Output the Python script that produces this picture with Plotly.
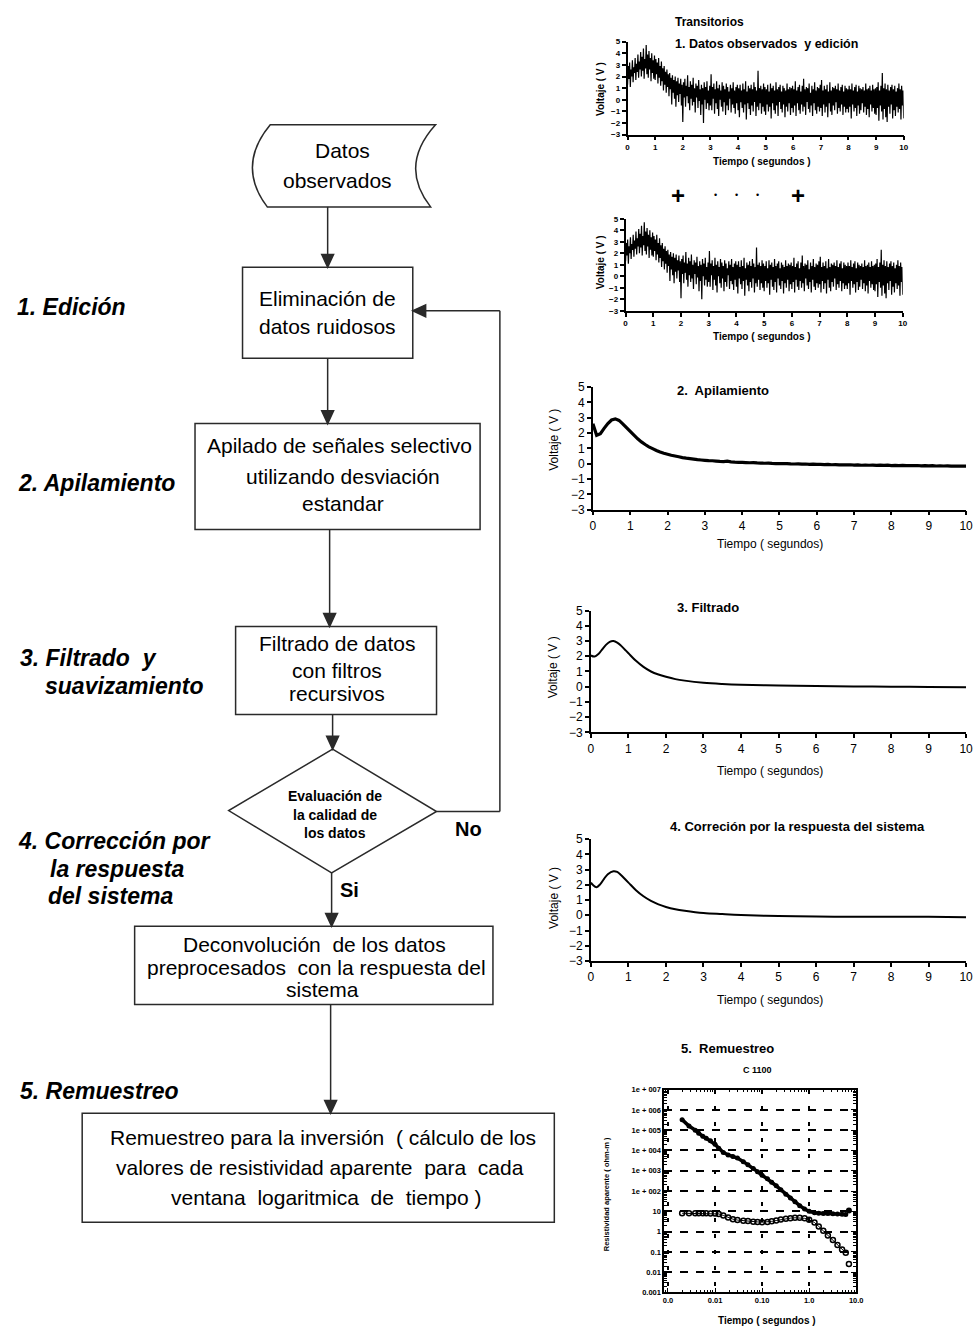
import plotly.graph_objects as go

W, H = 980, 1342

# ---------------- data ----------------
time_ticks = [0, 1, 2, 3, 4, 5, 6, 7, 8, 9, 10]
volt_ticks = [-3, -2, -1, 0, 1, 2, 3, 4, 5]

raw_dt = 0.025
raw_voltage = [
    1.3, 2.9, 1.8, 3.2, 1.1, 2.6, 2.0, 3.4, 1.5, 2.8, 2.3, 3.6, 1.7, 3.1, 2.4, 3.9, 1.9, 3.3, 2.6, 4.1,
    2.0, 3.7, 2.5, 4.4, 1.8, 3.5, 2.7, 4.7, 2.2, 3.9, 1.9, 4.2, 2.6, 3.6, 1.6, 4.0, 2.3, 3.4, 1.8, 3.8,
    1.7, 3.5, 2.2, 3.2, 1.4, 3.6, 1.9, 2.9, 1.2, 3.3, 1.6, 2.7, 0.8, 2.9, 1.3, 2.4, 0.6, 2.6, 1.1, 2.2,
    0.3, 2.3, 0.9, 1.9, -0.4, 2.1, 0.6, 1.7, 0.1, 2.0, -0.6, 1.6, 0.4, 1.9, -0.2, 1.4, 0.5, 1.8, -0.5, 1.3,
    -1.9, 1.5, 0.2, 1.8, -0.6, 1.2, 0.3, 2.1, -0.3, 1.1, -0.9, 1.6, 0.1, 1.3, -0.5, 1.9, -0.2, 1.0, -1.1, 1.4,
    0.2, 1.2, -0.7, 1.7, -0.1, 0.9, -1.3, 1.3, -0.4, 1.0, -2.0, 1.5, 0.0, 1.1, -0.8, 1.6, -0.3, 0.8, -0.9, 1.2,
    -0.5, 2.2, -0.9, 1.1, 0.1, 1.4, -1.2, 0.9, -0.3, 1.6, -0.8, 1.0, -1.4, 1.3, 0.0, 0.8, -0.6, 1.5, -1.0, 1.2,
    -0.2, 0.9, -1.3, 1.4, -0.5, 1.1, -0.9, 0.7, 0.1, 1.3, -1.1, 1.0, -0.4, 1.5, -0.7, 0.8, -1.2, 1.1, -0.3, 1.3,
    -0.9, 1.0, -1.5, 1.3, -0.2, 0.8, -0.7, 1.4, -1.1, 0.9, -0.4, 1.6, -1.7, 0.7, -0.3, 1.2, -0.8, 1.0, -1.3, 1.3,
    -0.5, 0.9, -1.0, 1.5, -0.2, 1.1, -1.4, 0.8, -0.6, 2.5, -0.9, 1.0, -0.3, 1.2, -1.2, 0.9, -0.6, 1.4, -1.0, 1.1,
    -1.3, 0.9, -0.4, 1.3, -1.0, 0.7, -0.6, 1.4, -1.6, 1.0, -0.3, 1.2, -0.9, 0.8, -1.2, 1.5, -0.5, 0.9, -1.4, 1.1,
    -0.2, 1.3, -0.8, 0.7, -1.1, 1.2, -0.4, 1.0, -1.5, 0.8, -0.6, 1.4, -1.0, 0.9, -0.3, 1.1, -1.3, 1.0, -0.7, 1.2,
    -1.1, 0.9, -0.5, 1.6, -1.4, 0.8, -0.3, 1.1, -0.9, 1.3, -1.2, 0.7, -0.4, 1.2, -1.0, 1.8, -0.6, 0.9, -1.3, 1.1,
    -0.2, 1.0, -0.8, 1.4, -1.1, 0.6, -0.5, 1.2, -1.4, 0.9, -0.3, 1.5, -0.9, 0.8, -1.2, 1.1, -0.6, 1.0, -1.0, 1.3,
    -0.7, 1.7, -1.4, 0.8, -0.4, 1.2, -1.1, 0.9, -0.6, 1.3, -1.5, 0.7, -0.3, 1.5, -1.0, 0.8, -1.3, 1.1, -0.5, 1.0,
    -0.9, 1.2, -0.2, 0.9, -1.2, 1.4, -0.7, 0.8, -1.0, 1.1, -0.4, 1.3, -1.3, 0.7, -0.6, 1.2, -1.1, 1.0, -0.8, 0.9,
    -1.1, 1.2, -0.6, 0.9, -1.6, 1.4, -0.4, 0.8, -1.0, 1.1, -0.7, 1.3, -1.4, 0.7, -0.5, 1.2, -1.2, 1.0, -0.9, 0.9,
    -0.3, 1.1, -1.1, 0.8, -0.6, 1.4, -1.3, 0.9, -0.8, 1.0, -1.5, 1.2, -0.4, 0.8, -1.0, 1.3, -0.7, 0.9, -1.2, 1.0,
    -1.3, 1.1, -0.7, 1.5, -1.8, 0.8, -0.5, 1.2, -1.0, 2.3, -1.7, 1.0, -0.8, 1.4, -1.5, 0.9, -1.9, 1.3, -0.6, 0.8,
    -1.2, 1.1, -0.4, 1.3, -1.6, 0.9, -0.9, 1.2, -1.4, 0.7, -0.6, 1.0, -1.1, 1.4, -0.8, 0.9, -1.7, 1.2, -0.5, 0.8, -1.6,
]

stack_dt = 0.1
stack_voltage = [
    2.6, 1.85, 1.95, 2.3, 2.62, 2.85, 2.92, 2.82, 2.6, 2.35,
    2.1, 1.86, 1.62, 1.42, 1.25, 1.1, 0.98, 0.86, 0.76, 0.68,
    0.62, 0.55, 0.5, 0.45, 0.4, 0.36, 0.33, 0.3, 0.26, 0.24,
    0.22, 0.2, 0.19, 0.17, 0.15, 0.14, 0.16, 0.12, 0.1, 0.09,
    0.08, 0.07, 0.06, 0.07, 0.05, 0.04, 0.03, 0.04, 0.02, 0.01,
    0.01, 0.0, 0.01, -0.01, -0.02, -0.01, -0.03, -0.02, -0.04, -0.03,
    -0.05, -0.04, -0.06, -0.05, -0.07, -0.06, -0.08, -0.07, -0.08, -0.07,
    -0.09, -0.08, -0.1, -0.09, -0.1, -0.09, -0.11, -0.1, -0.11, -0.1,
    -0.12, -0.11, -0.12, -0.11, -0.13, -0.12, -0.13, -0.12, -0.14, -0.13,
    -0.14, -0.13, -0.15, -0.14, -0.15, -0.14, -0.16, -0.15, -0.16, -0.15, -0.16,
]

filt_time = [0, 0.1, 0.2, 0.3, 0.4, 0.5, 0.6, 0.7, 0.8, 0.9, 1.0, 1.2, 1.4, 1.6, 1.8, 2.0, 2.25, 2.5,
             3.0, 3.5, 4.0, 5.0, 6.0, 7.0, 8.0, 9.0, 10.0]
filt_voltage = [2.05, 1.98, 2.15, 2.45, 2.75, 2.95, 3.0, 2.9, 2.7, 2.45, 2.2, 1.7, 1.3, 1.0, 0.8, 0.65,
                0.5, 0.4, 0.26, 0.18, 0.13, 0.08, 0.04, 0.02, 0.0, -0.02, -0.03]

corr_time = [0, 0.05, 0.15, 0.25, 0.35, 0.45, 0.6, 0.7, 0.8, 0.9, 1.0, 1.2, 1.4, 1.6, 1.8, 2.0, 2.25,
             2.5, 3.0, 3.5, 4.0, 5.0, 6.0, 7.0, 8.0, 9.0, 10.0]
corr_voltage = [2.15, 2.0, 1.85, 2.05, 2.4, 2.7, 2.9, 2.85, 2.65, 2.4, 2.15, 1.65, 1.25, 0.95, 0.72,
                0.55, 0.4, 0.3, 0.15, 0.08, 0.02, -0.05, -0.08, -0.1, -0.1, -0.1, -0.12]

res_time = [0.002, 0.0028, 0.0038, 0.0045, 0.0055, 0.0065, 0.008, 0.01, 0.012, 0.015, 0.019, 0.024,
            0.03, 0.04, 0.05, 0.065, 0.08, 0.1, 0.13, 0.16, 0.2, 0.25, 0.32, 0.4, 0.5, 0.63, 0.8,
            1.0, 1.3, 1.6, 2.0, 2.5, 3.2, 4.0, 5.0, 6.0]
res_upper = [3.3e5, 1.6e5, 1.0e5, 7e4, 5e4, 4e4, 3e4, 2e4, 1.3e4, 8e3, 6e3, 5e3,
             4.2e3, 2.8e3, 2.0e3, 1.3e3, 900, 600, 400, 270, 180, 115, 70, 45, 30, 19, 13,
             10, 8.5, 8, 7.8, 7.8, 7.6, 7.4, 7.2, 7.0]
res_lower = [8, 8, 8, 8, 8, 8, 7.8, 7.8, 7.4, 6.3, 5.0, 4.1,
             3.7, 3.4, 3.3, 3.1, 3.0, 2.9, 3.0, 3.2, 3.5, 3.9, 4.3, 4.6, 4.8, 4.8, 4.5,
             3.8, 2.8, 1.8, 1.1, 0.65, 0.38, 0.22, 0.13, 0.09]
res_out_time = [7.0]
res_out_upper = [11]
res_out_lower = [0.025]

log_y_vals = [1e-3, 1e-2, 1e-1, 1, 10, 1e2, 1e3, 1e4, 1e5, 1e6, 1e7]
log_y_text = ["0.001", "0.01", "0.1", "1", "10", "1e + 002", "1e + 003", "1e + 004",
              "1e + 005", "1e + 006", "1e + 007"]
log_x_vals = [0.001, 0.01, 0.1, 1, 10]
log_x_text = ["0.0", "0.01", "0.10", "1.0", "10.0"]

# ---------------- helpers ----------------
FONT = "Liberation Sans, Arial, sans-serif"


def px(x):
    return x / W


def py(y):
    return 1 - y / H


fig = go.Figure()

# ---------------- traces ----------------
fig.add_trace(go.Scatter(x0=0, dx=raw_dt, y=raw_voltage, mode="lines",
                         line=dict(color="black", width=1.2, simplify=False), xaxis="x", yaxis="y"))
fig.add_trace(go.Scatter(x0=0, dx=raw_dt, y=raw_voltage, mode="lines",
                         line=dict(color="black", width=1.2, simplify=False), xaxis="x2", yaxis="y2"))
fig.add_trace(go.Scatter(x0=0, dx=stack_dt, y=stack_voltage, mode="lines",
                         line=dict(color="black", width=3.2, simplify=False), xaxis="x3", yaxis="y3"))
fig.add_trace(go.Scatter(x=filt_time, y=filt_voltage, mode="lines", line_shape="spline",
                         line=dict(color="black", width=2), xaxis="x4", yaxis="y4"))
fig.add_trace(go.Scatter(x=corr_time, y=corr_voltage, mode="lines", line_shape="spline",
                         line=dict(color="black", width=2), xaxis="x5", yaxis="y5"))
fig.add_trace(go.Scatter(x=res_time, y=res_upper, mode="lines+markers",
                         line=dict(color="black", width=3.5),
                         marker=dict(color="black", size=5, symbol="circle"),
                         xaxis="x6", yaxis="y6"))
fig.add_trace(go.Scatter(x=res_time, y=res_lower, mode="lines+markers",
                         line=dict(color="black", width=1),
                         marker=dict(color="black", size=5, symbol="circle-open", line=dict(width=1.5)),
                         xaxis="x6", yaxis="y6"))
fig.add_trace(go.Scatter(x=res_out_time, y=res_out_upper, mode="markers",
                         marker=dict(color="black", size=6, symbol="circle"),
                         xaxis="x6", yaxis="y6"))
fig.add_trace(go.Scatter(x=res_out_time, y=res_out_lower, mode="markers",
                         marker=dict(color="black", size=5, symbol="circle-open", line=dict(width=1.5)),
                         xaxis="x6", yaxis="y6"))


# ---------------- axes ----------------
def volt_axes(n, x0, x1, ytop, ybot, fsize, weight):
    xa = dict(domain=[px(x0), px(x1)], range=[0, 10], tickmode="array", tickvals=time_ticks,
              anchor="y" if n == 1 else f"y{n}", showline=True, linecolor="black", linewidth=1.5,
              ticks="outside", ticklen=4, tickwidth=1.5, tickcolor="black", showgrid=False,
              zeroline=False, tickfont=dict(family=FONT, size=fsize, color="black", weight=weight))
    ya = dict(domain=[py(ybot), py(ytop)], range=[-3, 5], tickmode="array", tickvals=volt_ticks,
              anchor="x" if n == 1 else f"x{n}", showline=True, linecolor="black", linewidth=1.5,
              ticks="outside", ticklen=4, tickwidth=1.5, tickcolor="black", showgrid=False,
              zeroline=False, tickfont=dict(family=FONT, size=fsize, color="black", weight=weight))
    return xa, ya


layout_axes = {}
specs = [
    (1, 631, 910, 35, 129, 8, "bold"),
    (2, 629, 909, 214, 307, 8, "bold"),
    (3, 596, 973, 384, 508, 12, "normal"),
    (4, 594, 973, 610, 733, 12, "normal"),
    (5, 594, 973, 841, 964, 12, "normal"),
]
for n, x0, x1, yt, yb, fs, wt in specs:
    xa, ya = volt_axes(n, x0, x1, yt, yb, fs, wt)
    layout_axes["xaxis" if n == 1 else f"xaxis{n}"] = xa
    layout_axes["yaxis" if n == 1 else f"yaxis{n}"] = ya

logfont = dict(family=FONT, size=7.5, color="black", weight="bold")
layout_axes["xaxis6"] = dict(
    type="log", domain=[px(668), px(862)], range=[-3.08, 1.0], tickmode="array",
    tickvals=log_x_vals, ticktext=log_x_text, anchor="y6", showline=True, mirror="allticks",
    linecolor="black", linewidth=1.5, ticks="inside", ticklen=5, tickcolor="black",
    showgrid=True, gridcolor="black", gridwidth=1.5, griddash="4px,12px", zeroline=False,
    minor=dict(ticks="inside", ticklen=3, tickcolor="black", dtick="D1", showgrid=False),
    tickfont=logfont)
layout_axes["yaxis6"] = dict(
    type="log", domain=[py(1299), py(1094)], range=[-3, 7], tickmode="array",
    tickvals=log_y_vals, ticktext=log_y_text, anchor="x6", showline=True, mirror="allticks",
    linecolor="black", linewidth=1.5, ticks="inside", ticklen=5, tickcolor="black",
    showgrid=True, gridcolor="black", gridwidth=1.5, griddash="8px,8px", zeroline=False,
    minor=dict(ticks="inside", ticklen=3, tickcolor="black", dtick="D1", showgrid=False),
    tickfont=logfont)

# ---------------- flowchart shapes ----------------
LC = "#2a2a2a"
shapes = []


def line(x0, y0, x1, y1, w=1.5):
    shapes.append(dict(type="line", xref="paper", yref="paper", x0=px(x0), y0=py(y0),
                       x1=px(x1), y1=py(y1), line=dict(color=LC, width=w)))


def rect(x0, y0, x1, y1):
    shapes.append(dict(type="rect", xref="paper", yref="paper", x0=px(x0), y0=py(y1),
                       x1=px(x1), y1=py(y0), line=dict(color=LC, width=1.5)))


def path(pts, cmds):
    s = ""
    for c, p in zip(cmds, pts):
        s += c + " " + " ".join(f"{px(p[i]):.5f},{py(p[i+1]):.5f}" for i in range(0, len(p), 2)) + " "
    return s + "Z"


def poly(points, fill=None):
    s = "M " + " L ".join(f"{px(a):.5f},{py(b):.5f}" for a, b in points) + " Z"
    shapes.append(dict(type="path", xref="paper", yref="paper", path=s,
                       line=dict(color=LC, width=1.5), fillcolor=fill if fill else "rgba(0,0,0,0)"))


def arrow_down(x, y0, y1):
    line(x, y0, x, y1 - 12)
    poly([(x - 6, y1 - 13), (x + 6, y1 - 13), (x, y1)], fill=LC)


# data storage symbol
storage = path(
    [(270, 119), (437, 119), (399.5, 160.5, 432, 202), (267, 202), (235.5, 160.5, 270, 119)],
    ["M", "L", "Q", "L", "Q"])
shapes.append(dict(type="path", xref="paper", yref="paper", path=storage,
                   line=dict(color=LC, width=1.5), fillcolor="rgba(0,0,0,0)"))

rect(242, 263, 414, 355)
rect(194, 421, 482, 528)
rect(235, 626, 438, 715)
poly([(333, 750), (438, 813), (332, 875), (228, 812)])
rect(133, 929, 495, 1008)
rect(80, 1118, 557, 1228)

arrow_down(328, 202, 263)
arrow_down(328, 355, 421)
arrow_down(330, 528, 626)
arrow_down(333, 715, 750)
arrow_down(332, 875, 929)
arrow_down(331, 1008, 1118)

# feedback loop
line(438, 813, 502, 813)
line(502, 813, 502, 307)
line(502, 307, 426, 307)
poly([(427, 301), (427, 313), (414, 307)], fill=LC)

# ---------------- text ----------------
ann = []


def text(x, y, s, size, anchor="center", weight="normal", style="normal", angle=0, family=FONT):
    ann.append(dict(x=px(x), y=py(y), xref="paper", yref="paper", text=s, showarrow=False,
                    xanchor=anchor, yanchor="middle", textangle=angle,
                    font=dict(family=family, size=size, color="black", weight=weight, style=style)))


BOX = 21
text(343, 145, "Datos", BOX)
text(338, 175, "observados", BOX)
text(328, 295, "Eliminación de", BOX)
text(328, 323, "datos ruidosos", BOX)
text(340, 443, "Apilado de señales selectivo", BOX)
text(343, 474, "utilizando desviación", BOX)
text(343, 502, "estandar", BOX)
text(337, 643, "Filtrado de datos", BOX)
text(337, 670, "con filtros", BOX)
text(337, 694, "recursivos", BOX)
text(335, 797, "Evaluación de", 14, weight="bold")
text(335, 817, "la calidad de", 14, weight="bold")
text(335, 835, "los datos", 14, weight="bold")
text(470, 831, "No", 20, weight="bold")
text(350, 892, "Si", 20, weight="bold")
text(315, 947, "Deconvolución  de los datos", BOX)
text(317, 971, "preprocesados  con la respuesta del", BOX)
text(323, 993, "sistema", BOX)
text(323, 1142, "Remuestreo para la inversión  ( cálculo de los", BOX)
text(320, 1173, "valores de resistividad aparente  para  cada", BOX)
text(327, 1203, "ventana  logaritmica  de  tiempo )", BOX)

LBL = 23
text(12, 303, "1. Edición", LBL, anchor="left", weight="bold", style="italic")
text(13, 481, "2. Apilamiento", LBL, anchor="left", weight="bold", style="italic")
text(15, 658, "3. Filtrado  y", LBL, anchor="left", weight="bold", style="italic")
text(40, 686, "suavizamiento", LBL, anchor="left", weight="bold", style="italic")
text(13, 843, "4. Corrección por", LBL, anchor="left", weight="bold", style="italic")
text(45, 871, "la respuesta", LBL, anchor="left", weight="bold", style="italic")
text(43, 898, "del sistema", LBL, anchor="left", weight="bold", style="italic")
text(15, 1095, "5. Remuestreo", LBL, anchor="left", weight="bold", style="italic")

# chart titles
text(677, 15, "Transitorios", 12, anchor="left", weight="bold")
text(677, 37, "1. Datos observados  y edición", 12.5, anchor="left", weight="bold")
text(682, 190, "+", 24, weight="bold")
text(803, 190, "+", 24, weight="bold")
for xd in (720, 741, 762):
    text(xd, 190, "•", 9)
text(727, 388, "2.  Apilamiento", 13, weight="bold")
text(712, 607, "3. Filtrado", 13, weight="bold")
text(803, 828, "4. Correción por la respuesta del sistema", 13, weight="bold")
text(732, 1052, "5.  Remuestreo", 13, weight="bold")
text(762, 1074, "C 1100", 9, weight="bold")

# axis titles
text(603, 83, "Voltaje ( V )", 10, weight="bold", angle=-90)
text(767, 156, "Tiempo ( segundos )", 10, weight="bold")
text(603, 258, "Voltaje ( V )", 10, weight="bold", angle=-90)
text(767, 333, "Tiempo ( segundos )", 10, weight="bold")
text(557, 437, "Voltaje ( V )", 12, angle=-90)
text(775, 543, "Tiempo ( segundos)", 12)
text(556, 667, "Voltaje ( V )", 12, angle=-90)
text(775, 772, "Tiempo ( segundos)", 12)
text(556, 900, "Voltaje ( V )", 12, angle=-90)
text(775, 1003, "Tiempo ( segundos)", 12)
text(610, 1200, "Resistividad aparente ( ohm-m )", 7.5, weight="bold", angle=-90)
text(772, 1327, "Tiempo ( segundos )", 10, weight="bold")

fig.update_layout(
    width=W, height=H, margin=dict(l=0, r=0, t=0, b=0),
    paper_bgcolor="white", plot_bgcolor="white", showlegend=False,
    shapes=shapes, annotations=ann, **layout_axes)

fig.write_html("out.html", config={"displayModeBar": False},
               post_script="document.body.style.margin='0';document.body.style.overflow='hidden';")
